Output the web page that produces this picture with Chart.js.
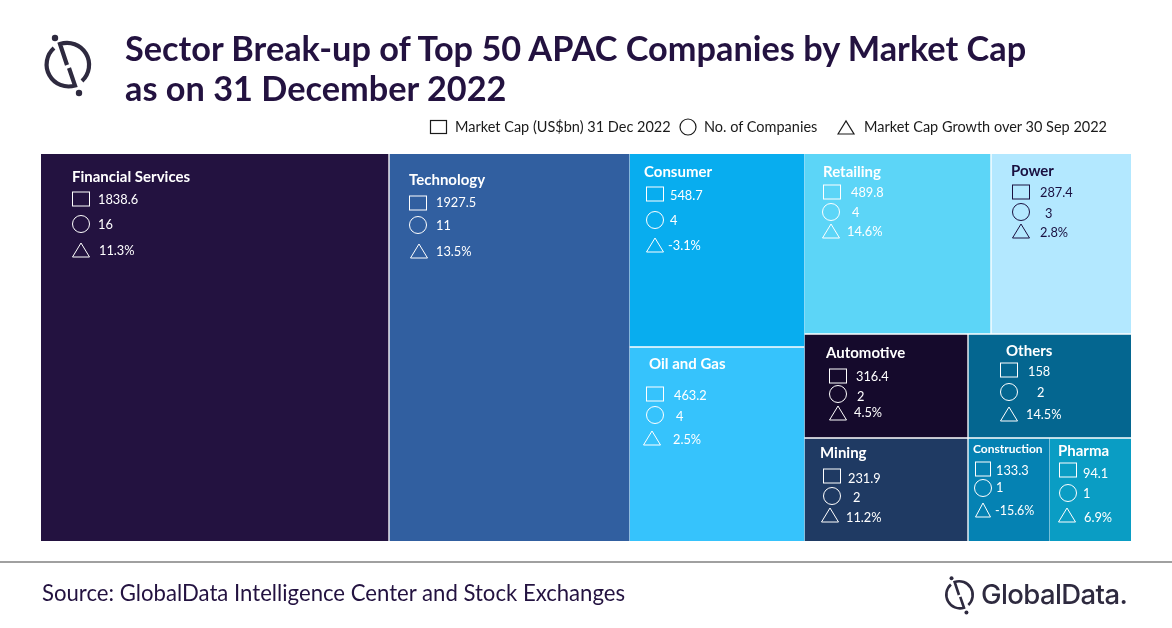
<!DOCTYPE html>
<html>
<head>
<meta charset="utf-8">
<title>Sector Break-up of Top 50 APAC Companies by Market Cap</title>
<script src="https://cdn.jsdelivr.net/npm/chart.js@4/dist/chart.umd.min.js"></script>
<style>
  html, body { margin: 0; padding: 0; background: #fff; }
  #page { position: relative; width: 1172px; height: 628px; overflow: hidden; font-family: Lato, "Open Sans", sans-serif; }
  #page > * { position: absolute; }
  canvas { left: 0; top: 0; }
  h1 { left: 125px; top: 28px; margin: 0; font-size: 34.3px; line-height: 39.5px; font-weight: 700; color: #231240; white-space: nowrap; }
  .key { top: 118px; font-size: 14.5px; line-height: 18px; color: #1a1a1a; white-space: nowrap; }
  #rule { left: 0; top: 561px; width: 1172px; height: 1.5px; background: #a0a0a0; }
  #source { left: 42px; top: 578px; font-size: 22.15px; line-height: 30px; color: #231240; white-space: nowrap; }
  #brand { left: 981px; top: 576px; font-family: Inter, Lato, sans-serif; font-size: 27.5px; line-height: 36px; font-weight: 500; letter-spacing: -0.6px; color: #2e2a3f; white-space: nowrap; }
</style>
</head>
<body>
<div id="page">
  <canvas id="treeChart" width="1172" height="628"></canvas>

  <svg width="0" height="0">
    <symbol id="logoMark" viewBox="30 25 74 80">
      <g fill="none" stroke="#2e2a3f" stroke-width="4.2">
        <path d="M54 48 A22 22 0 0 0 75 85.5 L69 68"/>
        <path d="M67 65 L60 44 A22 22 0 0 1 82 81"/>
      </g>
      <circle cx="55" cy="38" r="3.2" fill="#2e2a3f"/>
      <circle cx="79" cy="93" r="3.2" fill="#2e2a3f"/>
    </symbol>
  </svg>
  <svg style="left:30px;top:25px" width="74" height="80"><use href="#logoMark"/></svg>

  <h1>Sector Break-up of Top 50 APAC Companies by Market Cap<br>as on 31 December 2022</h1>

  <svg style="left:425px;top:115px" width="440" height="24" fill="none" stroke="#1a1a1a" stroke-width="1.2">
    <rect x="5.5" y="5.5" width="16" height="13"/>
    <ellipse cx="263" cy="12" rx="8" ry="8"/>
    <path d="M421 19 L429 6 L437 19 Z" transform="translate(-8 0)"/>
  </svg>
  <span class="key" style="left:455px">Market Cap (US$bn) 31 Dec 2022</span>
  <span class="key" style="left:704px">No. of Companies</span>
  <span class="key" style="left:864px">Market Cap Growth over 30 Sep 2022</span>

  <div id="rule"></div>
  <div id="source">Source: GlobalData Intelligence Center and Stock Exchanges</div>
  <svg style="left:936px;top:570px" width="46" height="50"><use href="#logoMark"/></svg>
  <div id="brand">GlobalData.</div>
</div>

<script>
// Values
const sectors = ['Financial Services', 'Technology', 'Consumer', 'Oil and Gas', 'Retailing', 'Power',
  'Automotive', 'Others', 'Mining', 'Construction', 'Pharma'];
const marketCap = [1838.6, 1927.5, 548.7, 463.2, 489.8, 287.4, 316.4, 158, 231.9, 133.3, 94.1];
const companies = [16, 11, 4, 4, 4, 3, 2, 2, 2, 1, 1];
const growth = [11.3, 13.5, -3.1, 2.5, 14.6, 2.8, 4.5, 14.5, 11.2, -15.6, 6.9];

// Styling
const cellColors = ['#231240', '#315FA0', '#08ADEF', '#36C3FC', '#5CD5F7', '#B3E8FF',
  '#150A2C', '#046690', '#1F3A63', '#0582B3', '#0A9DC4'];
const inkColors = ['#fff', '#fff', '#fff', '#fff', '#fff', '#1a1040',
  '#fff', '#fff', '#fff', '#fff', '#fff'];

// Treemap layout, in axis units. The source tiles are not strictly proportional to the values
const cellEdges = [ // left, right, top, bottom
  [41, 388, 154, 541], [390, 629, 154, 541],
  [630, 804, 154, 346], [630, 804, 348, 541],
  [805, 990, 154, 333], [992, 1131, 154, 333],
  [805, 967, 335, 437], [969, 1131, 335, 437],
  [805, 967, 439, 541], [969, 1049, 439, 541], [1050, 1131, 439, 541]
];

// Label placement per tile: name, square, circle, triangle, then the three value anchors
const labelSpots = [
  { name: [72, 177], sq: [81, 199], ci: [81, 224], tr: [81, 250], vals: [[98, 199], [98, 224], [99, 250]] },
  { name: [409, 180], sq: [418, 203], ci: [418, 225], tr: [419, 251], vals: [[436, 202], [436, 225], [436, 251]] },
  { name: [644, 172], sq: [655, 194], ci: [655, 220], tr: [655, 245], vals: [[670, 195], [670, 220], [668, 245]] },
  { name: [649, 364], sq: [655, 394], ci: [655, 415], tr: [652, 438], vals: [[674, 395], [676, 416], [673, 439]] },
  { name: [823, 172], sq: [832, 192], ci: [831, 212], tr: [831, 231], vals: [[851, 192], [852, 212], [847, 231]] },
  { name: [1011, 171], sq: [1021, 192], ci: [1021, 212], tr: [1021, 231], vals: [[1040, 192], [1045, 213], [1040, 232]] },
  { name: [826, 353], sq: [838, 376], ci: [838, 394], tr: [838, 413], vals: [[856, 376], [857, 396], [854, 412]] },
  { name: [1006, 351], sq: [1009, 370], ci: [1009, 392], tr: [1009, 414], vals: [[1028, 371], [1037, 392], [1026, 414]] },
  { name: [820, 453], sq: [832, 476], ci: [832, 496], tr: [830, 515], vals: [[848, 478], [853, 497], [846, 517]] },
  { name: [973, 449], sq: [983, 469], ci: [983, 488], tr: [983, 510], vals: [[996, 470], [996, 487], [995, 510]] },
  { name: [1058, 451], sq: [1068, 470], ci: [1068, 493], tr: [1067, 515], vals: [[1083, 473], [1083, 493], [1084, 517]] }
];

// Cell datasets: one floating bar per tile on two linear axes
const cellSets = sectors.map((s, i) => {
  const [l, r, t, b] = cellEdges[i];
  return {
    label: s,
    data: [{ x: (l + r) / 2, y: [t, b] }],
    backgroundColor: cellColors[i],
    borderWidth: 0,
    barThickness: r - l
  };
});

// Draw the sector names, symbols and values on top of the tiles
const tileLabels = {
  id: 'tileLabels',
  afterDatasetsDraw(chart) {
    const { ctx, scales: { x, y } } = chart;
    const px = v => x.getPixelForValue(v), py = v => y.getPixelForValue(v);

    sectors.forEach((s, i) => {
      const spot = labelSpots[i];
      const small = s === 'Construction';
      ctx.save();
      ctx.fillStyle = ctx.strokeStyle = inkColors[i];
      ctx.lineWidth = 1;
      ctx.textBaseline = 'middle';
      ctx.textAlign = 'left';

      ctx.font = `700 ${small ? 12 : 15}px Lato, sans-serif`;
      ctx.fillText(s, px(spot.name[0]), py(spot.name[1]));

      // symbols
      const w = small ? 15 : 17;
      ctx.strokeRect(px(spot.sq[0]) - w / 2, py(spot.sq[1]) - 7, w, 14);
      ctx.beginPath();
      ctx.arc(px(spot.ci[0]), py(spot.ci[1]), 8.5, 0, Math.PI * 2);
      ctx.stroke();
      ctx.beginPath();
      ctx.moveTo(px(spot.tr[0]) - w / 2, py(spot.tr[1]) + 7);
      ctx.lineTo(px(spot.tr[0]), py(spot.tr[1]) - 7);
      ctx.lineTo(px(spot.tr[0]) + w / 2, py(spot.tr[1]) + 7);
      ctx.closePath();
      ctx.stroke();

      // values
      const texts = [String(marketCap[i]), String(companies[i]), `${growth[i]}%`];
      texts.forEach((t, k) => {
        ctx.font = `400 ${small && k === 2 ? 12.5 : 12.8}px Lato, sans-serif`;
        ctx.fillText(t, px(spot.vals[k][0]), py(spot.vals[k][1]) + 0.5);
      });
      ctx.restore();
    });
  }
};

new Chart(document.getElementById('treeChart').getContext('2d'), {
  type: 'bar',
  data: { datasets: cellSets },
  plugins: [tileLabels],
  options: {
    responsive: false,
    animation: false,
    layout: { padding: { left: 41, right: 41, top: 154, bottom: 87 } },
    datasets: { bar: { grouped: false } },
    scales: {
      x: { type: 'linear', min: 41, max: 1131, offset: false, display: false },
      y: { type: 'linear', min: 154, max: 541, reverse: true, display: false }
    },
    plugins: { legend: { display: false }, tooltip: { enabled: false }, title: { display: false } }
  }
});
</script>
</body>
</html>
